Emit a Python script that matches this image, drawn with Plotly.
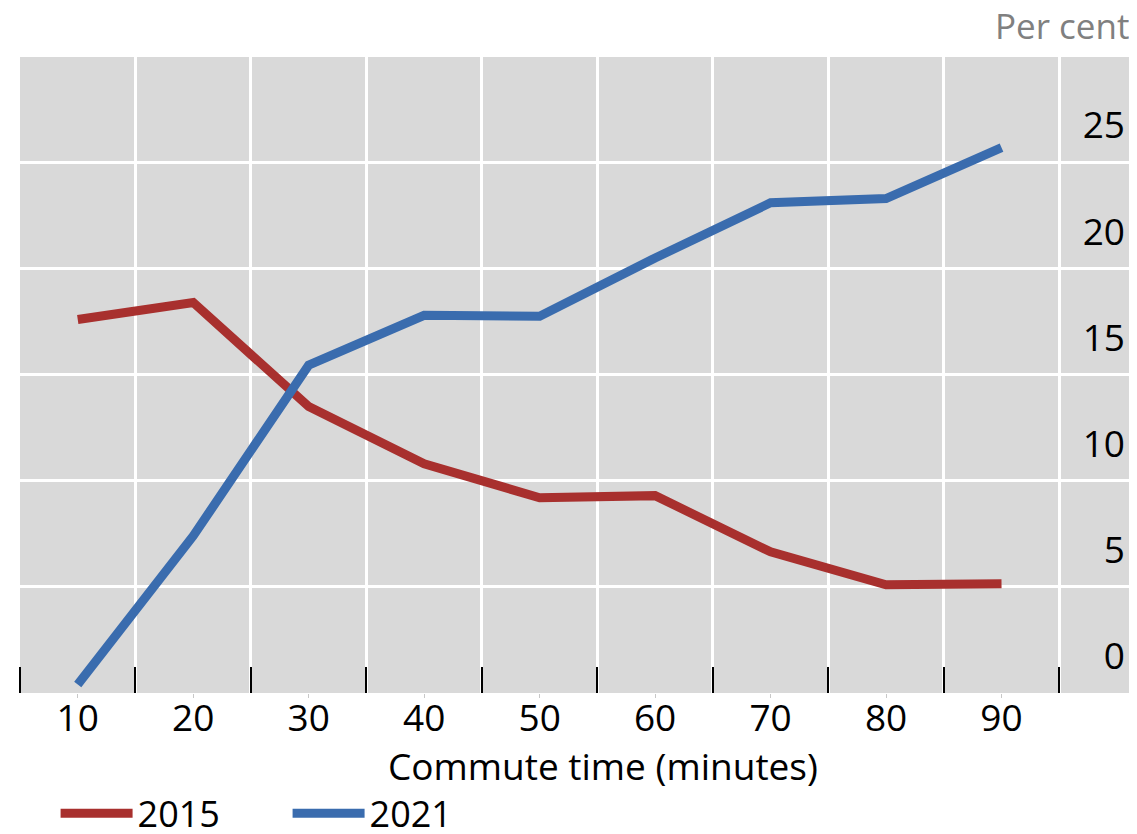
import plotly.graph_objects as go

commute_minutes = [10, 20, 30, 40, 50, 60, 70, 80, 90]
share_2015 = [17.6, 18.4, 13.5, 10.8, 9.2, 9.3, 6.65, 5.1, 5.15]
share_2021 = [0.4, 7.4, 15.45, 17.8, 17.75, 20.5, 23.1, 23.3, 25.7]
y_ticks = [0, 5, 10, 15, 20, 25]
y_grid = [5, 10, 15, 20, 25]
x_boundaries = [5, 15, 25, 35, 45, 55, 65, 75, 85, 95]

RED = "#a8302e"
BLUE = "#3a6cae"
FONT = "Open Sans"
FS = 37

fig = go.Figure()
fig.add_trace(go.Scatter(x=commute_minutes, y=share_2015, mode="lines", name="2015",
                         line=dict(color=RED, width=9)))
fig.add_trace(go.Scatter(x=commute_minutes, y=share_2021, mode="lines", name="2021",
                         line=dict(color=BLUE, width=9)))

fig.update_layout(
    width=1129, height=826,
    margin=dict(l=12, r=5, t=49, b=141, autoexpand=False),
    paper_bgcolor="white",
    plot_bgcolor="#d9d9d9",
    font=dict(family=FONT, size=FS, color="black"),
    showlegend=True,
    legend=dict(orientation="h", x=0.032, xanchor="left", y=-0.142, yanchor="top",
                itemwidth=72, font=dict(size=FS - 1, color="black"), entrywidth=145,
                bgcolor="rgba(0,0,0,0)"),
    xaxis=dict(
        range=[5.0, 101.3], automargin=False,
        tickmode="array", tickvals=commute_minutes,
        ticktext=[str(v) for v in commute_minutes],
        ticks="outside", ticklen=4, tickcolor="#c8c8c8", tickwidth=1,
        ticklabelstandoff=-11,
        showgrid=False, zeroline=False, showline=False,
        tickfont=dict(size=FS, color="black"),
        minor=dict(tickmode="array", tickvals=x_boundaries, ticks="inside",
                   ticklen=26, tickwidth=2, tickcolor="black",
                   showgrid=True, gridcolor="white", gridwidth=2.5),
    ),
    yaxis=dict(
        range=[0, 29.97], automargin=False,
        side="right",
        tickmode="array", tickvals=y_ticks,
        ticklabelposition="inside", ticklabelshift=-37, ticklabelstandoff=4,
        ticks="", showgrid=False,
        zeroline=False, showline=False,
        tickfont=dict(size=FS, color="black"),
        minor=dict(tickmode="array", tickvals=y_grid, ticks="",
                   showgrid=True, gridcolor="white", gridwidth=2.5),
    ),
    annotations=[
        dict(text="Per cent", xref="paper", yref="paper", x=0.999, y=1.0,
             xanchor="right", yanchor="bottom", yshift=6, showarrow=False,
             font=dict(family=FONT, size=FS - 2, color="#808080")),
        dict(text="Commute time (minutes)", xref="paper", yref="paper", x=0.524, y=0,
             xanchor="center", yanchor="middle", yshift=-72, showarrow=False,
             font=dict(family=FONT, size=FS, color="black")),
    ],
)

fig.write_html("out.html")
